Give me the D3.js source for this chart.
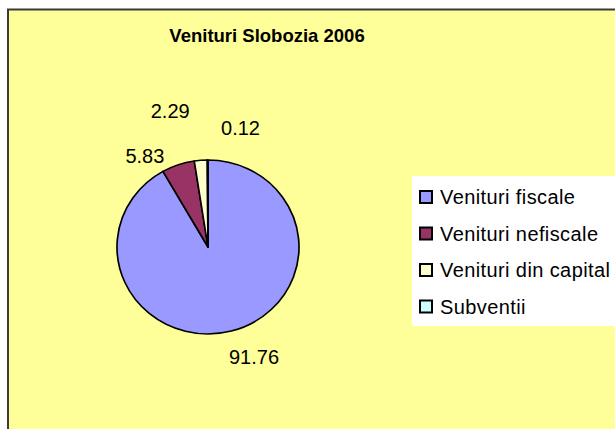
<!DOCTYPE html>
<html>
<head>
<meta charset="utf-8">
<script src="https://cdn.jsdelivr.net/npm/d3@7"></script>
<style>
  body { margin: 0; background: #fff; }
  svg { display: block; font-family: "Liberation Sans", Arial, sans-serif; }
</style>
</head>
<body>
<script>
// data
let categories = ["Venituri fiscale", "Venituri nefiscale", "Venituri din capital", "Subventii"]
let values = [91.76, 5.83, 2.29, 0.12]
let colors = ["#9999FF", "#993366", "#FFFFCC", "#CCFFFF"]
let title = "Venituri Slobozia 2006"

// label placement around the pie (Excel pushed the small ones apart)
let labelShift = [-7.9, -15.5, -11, 15.4]   // degrees off the slice middle
let labelRadius = [119, 111, 141, 124]

let w = 615, h = 429
let cx = 208, cy = 247
let ry = 87, rx = 91

let svg = d3.select("body").append("svg")
    .attr("width", w)
    .attr("height", h)

// chart area, runs off the right and bottom of the picture
svg.append("rect")
    .attr("x", 8).attr("y", 9.5)
    .attr("width", 700).attr("height", 500)
    .attr("fill", "#FFFF99")
    .attr("stroke", "#3a3a3a")
    .attr("stroke-width", 2)

svg.append("text")
    .attr("x", 267).attr("y", 42)
    .attr("text-anchor", "middle")
    .attr("font-weight", "bold")
    .attr("font-size", "18.5px")
    .text(title)

let pie = d3.pie().sort(null).value(d => d)
let arcs = pie(values)
let arc = d3.arc().innerRadius(0).outerRadius(ry)

let g = svg.append("g")
    .attr("transform", `translate(${cx},${cy}) scale(${rx / ry},1)`)

g.selectAll("path")
    .data(arcs)
    .enter()
    .append("path")
    .attr("d", arc)
    .attr("fill", (d, i) => colors[i])
    .attr("stroke", "#000")
    .attr("stroke-width", 1.6)
    .attr("stroke-linejoin", "round")

let labels = svg.append("g").attr("transform", `translate(${cx},${cy})`)
labels.selectAll("text")
    .data(arcs)
    .enter()
    .append("text")
    .attr("transform", (d, i) => {
        let a = (d.startAngle + d.endAngle) / 2 + labelShift[i] * Math.PI / 180
        let p = d3.arc().innerRadius(labelRadius[i]).outerRadius(labelRadius[i])
            .centroid({startAngle: a, endAngle: a})
        return `translate(${p[0]},${p[1]})`
    })
    .attr("text-anchor", "middle")
    .attr("dy", "0.36em")
    .attr("font-size", "20px")
    .text(d => d.value.toFixed(2))

// legend
let legend = svg.append("g")
legend.append("rect")
    .attr("x", 412).attr("y", 176)
    .attr("width", 250).attr("height", 150)
    .attr("fill", "#fff")

let rowY = d3.scalePoint().domain(categories).range([197, 306.5])

let item = legend.selectAll("g.item")
    .data(categories)
    .enter()
    .append("g")
    .attr("class", "item")
    .attr("transform", d => `translate(420,${rowY(d)})`)

item.append("rect")
    .attr("x", 0).attr("y", -6)
    .attr("width", 12).attr("height", 12)
    .attr("fill", (d, i) => colors[i])
    .attr("stroke", "#000")
    .attr("stroke-width", 2)

item.append("text")
    .attr("x", 20)
    .attr("y", 7)
    .attr("font-size", "20px")
    .attr("letter-spacing", "0.4px")
    .text(d => d)
</script>
</body>
</html>
